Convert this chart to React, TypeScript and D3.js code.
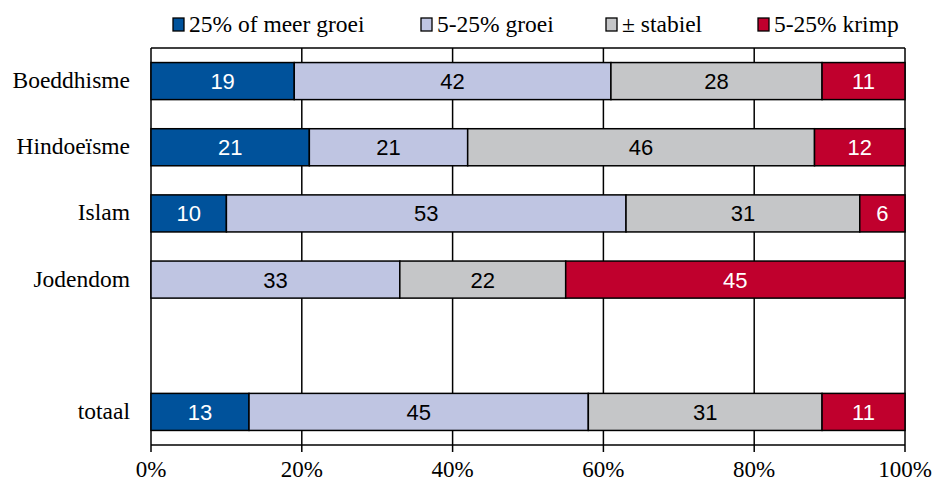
import React from "react";
import * as d3 from "d3";

const categories = ["Boeddhisme", "Hindoeïsme", "Islam", "Jodendom", "", "totaal"];
const seriesNames = ["25% of meer groei", "5-25% groei", "± stabiel", "5-25% krimp"];
const groeiSterk = [19, 21, 10, 0, null, 13];
const groei = [42, 21, 53, 33, null, 45];
const stabiel = [28, 46, 31, 22, null, 31];
const krimp = [11, 12, 6, 45, null, 11];
const ticks = [0, 20, 40, 60, 80, 100];
const colors = ["#00529B", "#BFC5E2", "#C5C6C8", "#C0002D"];
const labelColors = ["#fff", "#000", "#000", "#fff"];

const W = 934, H = 482;
const m = { left: 151, right: 905, top: 48, bottom: 445 };
const SERIF = "'Liberation Serif', 'Times New Roman', serif";
const SANS = "'Liberation Sans', Arial, sans-serif";

export default function App() {
  const x = d3.scaleLinear().domain([0, 100]).range([m.left, m.right]);
  const y = d3.scaleBand<string>().domain(categories.map((c, i) => String(i))).range([m.top, m.bottom]).paddingInner(0.44).paddingOuter(0.22);
  const series = [groeiSterk, groei, stabiel, krimp];
  const legendX = [173, 421, 606, 758];
  return (
    <svg width={W} height={H} style={{ position: "absolute", left: 0, top: 0 }}>
      <rect width={W} height={H} fill="#fff" />
      {ticks.map((t) => (
        <line key={t} x1={x(t)} x2={x(t)} y1={m.top} y2={m.bottom + 7} stroke="#000" strokeWidth={1.5} />
      ))}
      <line x1={m.left} x2={m.right} y1={m.top} y2={m.top} stroke="#000" strokeWidth={1.5} />
      <line x1={m.left} x2={m.right} y1={m.bottom} y2={m.bottom} stroke="#000" strokeWidth={1.5} />
      {categories.map((c, i) => {
        const yy = y(String(i))!;
        const bh = y.bandwidth();
        let acc = 0;
        return (
          <g key={i}>
            {c && (
              <text x={130} y={yy + bh / 2 + 7} textAnchor="end" style={{ fontFamily: SERIF, fontSize: 23.5 }}>{c}</text>
            )}
            {series.map((s, k) => {
              const v = s[i];
              if (v == null || v === 0) return null;
              const x0 = x(acc);
              acc += v;
              const x1 = x(acc);
              return (
                <g key={k}>
                  <rect x={x0} y={yy} width={x1 - x0} height={bh} fill={colors[k]} stroke="#000" strokeWidth={1.5} />
                  <text x={(x0 + x1) / 2} y={yy + bh / 2 + 8} textAnchor="middle" style={{ fontFamily: SANS, fontSize: 22 }} fill={labelColors[k]}>{v}</text>
                </g>
              );
            })}
          </g>
        );
      })}
      {ticks.map((t) => (
        <text key={t} x={x(t)} y={477} textAnchor="middle" style={{ fontFamily: SERIF, fontSize: 23 }}>{t}%</text>
      ))}
      {seriesNames.map((n, k) => (
        <g key={n}>
          <rect x={legendX[k]} y={18} width={11} height={13} fill={colors[k]} stroke="#000" strokeWidth={1.3} />
          <text x={legendX[k] + 16} y={32} style={{ fontFamily: SERIF, fontSize: 23.5 }}>{n}</text>
        </g>
      ))}
    </svg>
  );
}
